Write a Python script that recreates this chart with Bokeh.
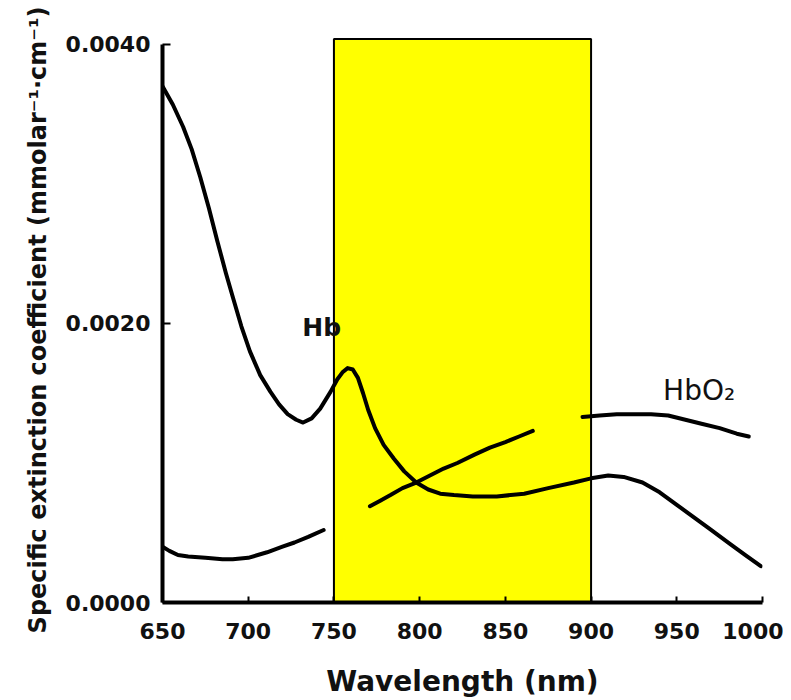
from bokeh.plotting import figure
from bokeh.models import Range1d, FixedTicker, Label
from bokeh.embed import file_html
from bokeh.resources import INLINE

# ---- data ----
hb_wl = [650, 656, 662, 667, 672, 677, 682, 687, 691, 696, 701, 707, 713, 718, 723, 728, 732, 737,
         742, 748, 752, 755, 758, 761, 764, 767, 770, 774, 779, 785, 791, 798, 805, 812, 820, 831,
         845, 861, 875, 890, 900, 910, 919, 930, 940, 950, 960, 970, 980, 990, 999]
hb_val = [0.00370, 0.00357, 0.00341, 0.00325, 0.00305, 0.00283, 0.00259, 0.00236, 0.00219, 0.00198,
          0.00180, 0.00163, 0.00151, 0.00142, 0.00135, 0.00131, 0.00129, 0.00132, 0.00139, 0.00151,
          0.00160, 0.00165, 0.00168, 0.00167, 0.00161, 0.00150, 0.00138, 0.00125, 0.00113, 0.00103,
          0.00094, 0.00086, 0.00081, 0.00078, 0.00077, 0.00076, 0.00076, 0.00078, 0.00082, 0.00086,
          0.00089, 0.00091, 0.00090, 0.00086, 0.00079, 0.00070, 0.00061, 0.00052, 0.00043, 0.00034,
          0.00026]

hbo2_wl_1 = [650, 654, 659, 665, 675, 685, 691, 700, 711, 720, 727, 735, 744]
hbo2_val_1 = [0.00040, 0.00037, 0.00034, 0.00033, 0.00032, 0.00031, 0.00031, 0.00032, 0.00036,
              0.00040, 0.00043, 0.00047, 0.00052]
hbo2_wl_2 = [771, 777, 783, 790, 798, 806, 814, 822, 832, 841, 850, 858, 866]
hbo2_val_2 = [0.00069, 0.00073, 0.00077, 0.00082, 0.00086, 0.00091, 0.00096, 0.00100, 0.00106,
              0.00111, 0.00115, 0.00119, 0.00123]
hbo2_wl_3 = [895, 905, 915, 925, 935, 945, 955, 965, 975, 985, 992]
hbo2_val_3 = [0.00133, 0.00134, 0.00135, 0.00135, 0.00135, 0.00134, 0.00131, 0.00128, 0.00125,
              0.00121, 0.00119]

band_start, band_end, band_top = 750, 900, 0.00404

x_ticks = [650, 700, 750, 800, 850, 900, 950, 1000]
y_ticks = [0.0, 0.002, 0.004]
y_tick_labels = ["0.0000", "0.0020", "0.0040"]

FONT = "DejaVu Sans"

p = figure(width=783, height=700, output_backend="svg", toolbar_location=None,
           x_range=Range1d(650, 1000), y_range=Range1d(0, 0.00405))
p.min_border_left = 162
p.min_border_right = 21
p.min_border_top = 37
p.min_border_bottom = 97
p.outline_line_color = None
p.xgrid.visible = False
p.ygrid.visible = False
p.background_fill_color = "white"

# yellow band
p.quad(left=[band_start], right=[band_end], bottom=[0], top=[band_top],
       fill_color="#FFFF00", line_color="black", line_width=2)

# curves
for xs, ys in [(hb_wl, hb_val), (hbo2_wl_1, hbo2_val_1), (hbo2_wl_2, hbo2_val_2),
               (hbo2_wl_3, hbo2_val_3)]:
    p.line(xs, ys, line_color="black", line_width=4, line_join="round", line_cap="round")

# labels
p.add_layout(Label(x=731.5, y=0.00197, text="Hb", text_font=FONT, text_font_style="bold",
                   text_font_size="25px", text_color="#111111", text_baseline="alphabetic"))
p.add_layout(Label(x=942, y=0.00152, text="HbO\u2082", text_font=FONT,
                   text_font_size="28px", text_color="#111111", text_baseline="alphabetic"))

# axes
xa = p.xaxis[0]
ya = p.yaxis[0]
xa.ticker = FixedTicker(ticks=x_ticks)
ya.ticker = FixedTicker(ticks=y_ticks)
ya.major_label_overrides = {t: l for t, l in zip(y_ticks, y_tick_labels)}
xa.bounds = (650, 1000)
ya.bounds = (0, 0.004)
for ax in (xa, ya):
    ax.axis_line_width = 4
    ax.axis_line_color = "black"
    ax.major_tick_in = 8
    ax.major_tick_out = 0
    ax.major_tick_line_width = 2
    ax.minor_tick_line_color = None
    ax.major_label_text_font = FONT
    ax.major_label_text_font_style = "bold"
    ax.major_label_text_font_size = "22px"
    ax.major_label_text_color = "#111111"
    ax.axis_label_text_font = FONT
    ax.axis_label_text_font_style = "bold"
    ax.axis_label_text_color = "#111111"
xa.major_tick_in = 6
xa.major_label_standoff = 20
ya.major_label_standoff = 12
xa.axis_label = "Wavelength (nm)"
xa.axis_label_text_font_size = "28px"
xa.axis_label_standoff = 23
ya.axis_label = "Specific extinction coefficient (mmolar\u207b\u00b9\u00b7cm\u207b\u00b9)"
ya.axis_label_text_font_size = "24px"
ya.axis_label_standoff = 11

open("out.html", "w").write(file_html(p, INLINE))
